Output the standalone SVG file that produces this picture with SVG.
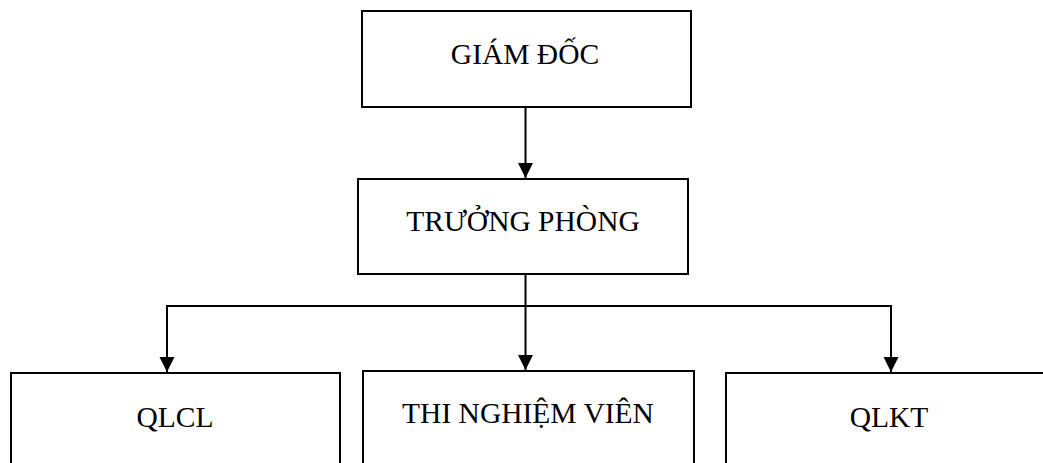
<svg xmlns="http://www.w3.org/2000/svg" width="1043" height="463" viewBox="0 0 1043 463">
<style>
.box{fill:#fff;stroke:#000;stroke-width:2}
.lbl{font-family:"Liberation Serif","Times New Roman",serif;font-size:29.5px;fill:#000;text-anchor:middle}
.con{fill:none;stroke:#000;stroke-width:2}
</style>
<defs>
<marker id="arr" markerUnits="userSpaceOnUse" markerWidth="16" markerHeight="16" viewBox="0 0 16 16" refX="15" refY="8" orient="auto">
<path d="M0,0.5 L15,8 L0,15.5 Z" fill="#000"/>
</marker>
</defs>
<rect width="1043" height="463" fill="#fff"/>
<g id="giam-doc"><rect class="box" x="362" y="11" width="329" height="96"/><text class="lbl" x="525" y="64">GIÁM ĐỐC</text></g>
<g id="truong-phong"><rect class="box" x="358" y="179" width="330" height="95"/><text class="lbl" x="523" y="231">TRƯỞNG PHÒNG</text></g>
<g id="qlcl"><rect class="box" x="11" y="373" width="329" height="110"/><text class="lbl" x="175" y="427">QLCL</text></g>
<g id="thi-nghiem-vien"><rect class="box" x="363" y="371" width="331" height="110"/><text class="lbl" x="528" y="423">THI NGHIỆM VIÊN</text></g>
<g id="qlkt"><rect class="box" x="726" y="373" width="340" height="110"/><text class="lbl" x="889" y="427">QLKT</text></g>
<g id="connectors">
<path class="con" d="M525.5,107 V178" marker-end="url(#arr)"/>
<path class="con" d="M525.5,274 V370" marker-end="url(#arr)"/>
<path class="con" d="M167,306 H891"/>
<path class="con" d="M167,305 V372" marker-end="url(#arr)"/>
<path class="con" d="M891,305 V372" marker-end="url(#arr)"/>
</g>
</svg>
